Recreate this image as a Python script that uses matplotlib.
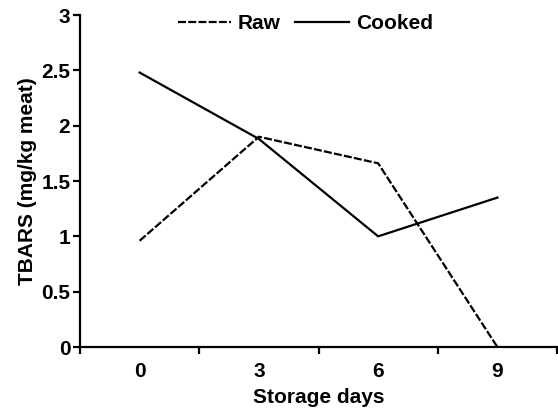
import matplotlib
matplotlib.use("Agg")
from matplotlib import pyplot as plt

# data
days = ["0", "3", "6", "9"]
raw = [0.96, 1.90, 1.66, 0.0]
cooked = [2.48, 1.88, 1.00, 1.35]

plt.rcParams['font.family'] = ['Liberation Sans', 'DejaVu Sans']
plt.rcParams['font.weight'] = 'bold'
plt.rcParams['axes.labelweight'] = 'bold'

fig = plt.figure(figsize=(5.58, 4.11), dpi=100)
ax = fig.add_axes([0.1434, 0.1557, 0.8548, 0.8078])

x = list(range(len(days)))
ax.plot(x, raw, color="black", lw=1.6, dashes=(3.6, 1.0), label="Raw")
ax.plot(x, cooked, color="black", lw=1.6, label="Cooked")

ax.set_xlim(-0.5, len(days) - 0.5)
ax.set_ylim(0, 3)
ax.set_xticks(x)
ax.set_xticklabels(days)
ax.set_xticks([i - 0.5 for i in range(len(days) + 1)], minor=True)
ax.tick_params(axis="x", which="major", length=0, pad=11, labelsize=15)
ax.tick_params(axis="x", which="minor", length=5, width=1.6, direction="out")
ax.set_yticks([0, 0.5, 1, 1.5, 2, 2.5, 3])
ax.set_yticklabels(["0", "0.5", "1", "1.5", "2", "2.5", "3"])
ax.tick_params(axis="y", length=5, width=1.6, direction="out", pad=2, labelsize=15)

for s in ["top", "right"]:
    ax.spines[s].set_visible(False)
for s in ["left", "bottom"]:
    ax.spines[s].set_linewidth(1.6)

ax.set_xlabel("Storage days", fontsize=15, labelpad=5)
ax.set_ylabel("TBARS (mg/kg meat)", fontsize=15, labelpad=3)

fig.legend(loc="center", bbox_to_anchor=(0.547, 0.942), ncol=2, frameon=False,
           fontsize=15, handlelength=2.55, handletextpad=0.35, columnspacing=0.7)

fig.savefig("out.png", dpi=100)
